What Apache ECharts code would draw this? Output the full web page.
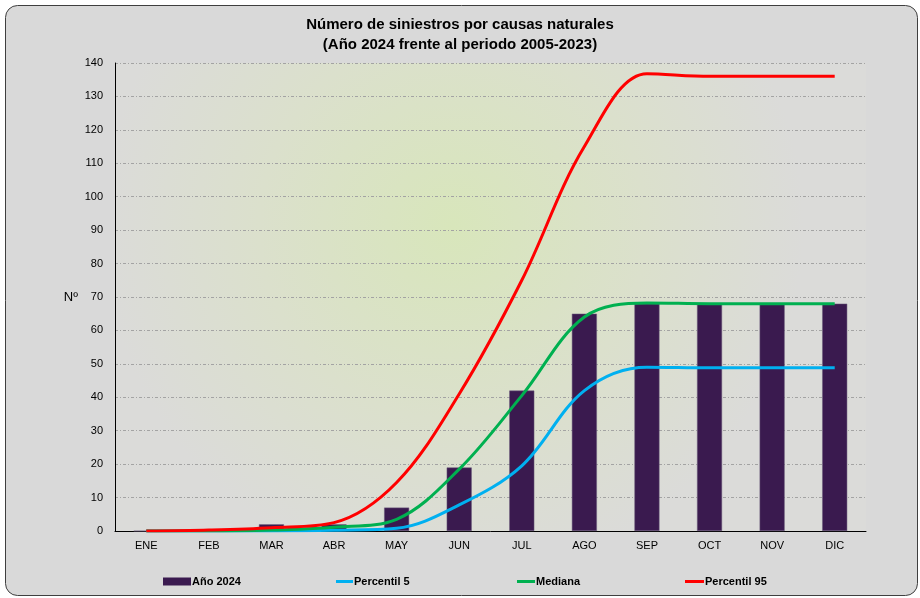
<!DOCTYPE html>
<html><head><meta charset="utf-8">
<script src="https://cdn.jsdelivr.net/npm/echarts@6/dist/echarts.min.js"></script>
<style>html,body{margin:0;padding:0;background:#fff;}#c{width:920px;height:598px;}</style>
</head><body><div id="c"></div>
<script>
var categories = ['ENE','FEB','MAR','ABR','MAY','JUN','JUL','AGO','SEP','OCT','NOV','DIC'];
var ano2024 = [0, 0, 2, 2, 7, 19, 42, 65, 68, 68, 68, 68];
var percentil5 = [0, 0, 0, 0.2, 0.8, 7.8, 19.5, 42, 49, 48.8, 48.8, 48.8];
var mediana = [0, 0, 0.3, 1.1, 3.5, 18.5, 40.5, 64, 68.2, 68, 68, 68];
var percentil95 = [0, 0.3, 1, 2.5, 14.5, 41, 75, 115, 136.8, 136, 136, 136];
var yTicks = {min: 0, max: 140, interval: 10};

var chart = echarts.init(document.getElementById('c'));
var font = 'Arial, "Liberation Sans", sans-serif';
function leg(name, x, icon, w, h) {
  return {data: [{name: name, icon: icon, itemStyle: {borderWidth: 0}}], left: x, top: 571, itemWidth: w, itemHeight: h, itemGap: 0,
    textStyle: {fontFamily: font, fontSize: 11, fontWeight: 'bold', color: '#000', padding: [0,0,0,-4]}, selectedMode: false};
}
chart.setOption({
  animation: false,
  backgroundColor: '#fff',
  graphic: [{type: 'rect', z: -10, shape: {x: 5.5, y: 5.5, width: 912, height: 590, r: 12},
    style: {fill: '#d9d9d9', stroke: '#3f3f3f', lineWidth: 1}}],
  title: {text: 'Número de siniestros por causas naturales\n(Año 2024 frente al periodo 2005-2023)',
    left: 'center', top: 10,
    textStyle: {fontFamily: font, fontSize: 15, fontWeight: 'bold', color: '#000', lineHeight: 20}},
  legend: [
    leg('Año 2024', 158, 'rect', 28, 8),
    leg('Percentil 5', 331, 'rect', 17, 3),
    leg('Mediana', 512, 'rect', 18, 3),
    leg('Percentil 95', 680, 'rect', 19, 3)
  ],
  grid: {left: 115, right: 54, top: 63, bottom: 67, show: true, borderWidth: 0,
    backgroundColor: {type: 'radial', x: 0.45, y: 0.35, r: 0.75,
      colorStops: [{offset: 0, color: '#d8e6bb'}, {offset: 0.55, color: '#dbe0cc'}, {offset: 1, color: '#dbdbd9'}]}},
  xAxis: {type: 'category', data: categories, boundaryGap: true,
    axisLine: {lineStyle: {color: '#000', width: 1}}, axisTick: {show: false},
    axisLabel: {fontFamily: font, fontSize: 11, color: '#000', margin: 9}},
  yAxis: {type: 'value', min: yTicks.min, max: yTicks.max, interval: yTicks.interval,
    name: 'Nº', nameLocation: 'middle', nameRotate: 0, nameGap: 37,
    nameTextStyle: {fontFamily: font, fontSize: 13, color: '#000'},
    axisLine: {show: true, lineStyle: {color: '#000', width: 1}}, axisTick: {show: false},
    axisLabel: {fontFamily: font, fontSize: 11, color: '#000', margin: 12},
    splitLine: {lineStyle: {color: '#a3a3a3', width: 1, type: [3, 2, 1, 2]}}},
  series: [
    {name: 'Año 2024', type: 'bar', data: ano2024, barWidth: 25,
      itemStyle: {color: '#3a1a4f', borderColor: '#6b5a7a', borderWidth: 0.5}},
    {name: 'Percentil 5', type: 'line', data: percentil5, smooth: 0.35, symbol: 'none',
      lineStyle: {color: '#00b0f0', width: 3}, itemStyle: {color: '#00b0f0'}},
    {name: 'Mediana', type: 'line', data: mediana, smooth: 0.35, symbol: 'none',
      lineStyle: {color: '#00b050', width: 3}, itemStyle: {color: '#00b050'}},
    {name: 'Percentil 95', type: 'line', data: percentil95, smooth: 0.35, symbol: 'none',
      lineStyle: {color: '#ff0000', width: 3}, itemStyle: {color: '#ff0000'}}
  ]
});
</script></body></html>
